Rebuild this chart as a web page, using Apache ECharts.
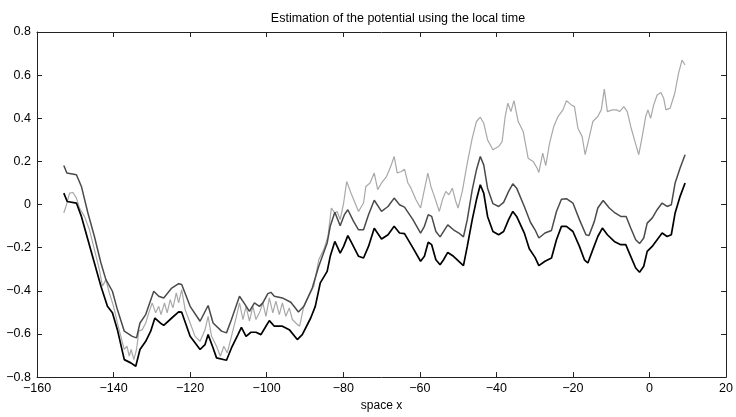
<!DOCTYPE html>
<html>
<head>
<meta charset="utf-8">
<script src="https://cdn.jsdelivr.net/npm/echarts@6/dist/echarts.min.js"></script>
<style>
html,body{margin:0;padding:0;background:#fff;}
#chart{width:736px;height:417px;}
</style>
</head>
<body>
<div id="chart"></div>
<script>
var titleText = "Estimation of the potential using the local time";
var xAxisName = "space x";
var xTicks = [-160, -140, -120, -100, -80, -60, -40, -20, 0, 20];
var yTicks = [-0.8, -0.6, -0.4, -0.2, 0, 0.2, 0.4, 0.6, 0.8];

var blackX = [-153.0,-152.1,-149.7,-148.4,-146.7,-145.0,-143.3,-141.6,-140.3,-139.0,-137.2,-135.5,-134.2,-133.1,-131.6,-130.3,-129.2,-127.8,-126.9,-124.8,-123.0,-122.2,-120.0,-117.4,-116.1,-115.3,-114.0,-113.1,-110.5,-109.2,-107.5,-106.6,-105.4,-104.1,-102.8,-101.5,-100.2,-99.3,-98.0,-95.9,-94.1,-92.0,-90.7,-88.5,-87.3,-86.0,-84.2,-83.4,-82.2,-81.6,-80.8,-79.9,-78.8,-77.8,-76.0,-74.7,-73.4,-71.9,-70.0,-68.3,-66.7,-65.3,-64.0,-61.8,-59.8,-58.8,-57.8,-56.9,-55.8,-54.7,-53.8,-52.7,-51.2,-49.8,-48.6,-47.6,-46.3,-45.2,-44.2,-43.3,-42.3,-40.9,-39.4,-38.1,-36.8,-35.7,-34.7,-32.7,-31.4,-29.9,-28.9,-27.3,-25.6,-24.3,-23.0,-21.7,-20.0,-18.3,-17.0,-16.1,-14.8,-13.5,-12.3,-11.0,-9.2,-7.5,-6.2,-4.9,-3.6,-2.6,-1.5,-0.6,0.7,2.0,3.3,4.6,5.7,6.7,8.0,9.3];
var blackY = [0.053,0.014,0.007,-0.055,-0.163,-0.271,-0.379,-0.472,-0.502,-0.580,-0.719,-0.734,-0.750,-0.672,-0.634,-0.587,-0.526,-0.549,-0.560,-0.526,-0.498,-0.499,-0.611,-0.672,-0.649,-0.603,-0.665,-0.711,-0.722,-0.665,-0.603,-0.569,-0.611,-0.592,-0.592,-0.603,-0.564,-0.538,-0.564,-0.564,-0.580,-0.626,-0.603,-0.526,-0.472,-0.363,-0.310,-0.240,-0.171,-0.194,-0.225,-0.194,-0.144,-0.178,-0.240,-0.248,-0.194,-0.110,-0.160,-0.140,-0.101,-0.132,-0.135,-0.201,-0.263,-0.240,-0.175,-0.186,-0.256,-0.279,-0.256,-0.222,-0.240,-0.263,-0.283,-0.194,-0.070,0.022,0.092,0.053,-0.055,-0.125,-0.140,-0.125,-0.070,-0.032,-0.055,-0.132,-0.205,-0.245,-0.283,-0.263,-0.248,-0.163,-0.101,-0.101,-0.125,-0.194,-0.256,-0.271,-0.209,-0.148,-0.109,-0.140,-0.171,-0.186,-0.186,-0.240,-0.294,-0.314,-0.286,-0.217,-0.194,-0.163,-0.132,-0.148,-0.140,-0.039,0.038,0.100];

var darkX = [-153.0,-152.2,-149.7,-148.4,-146.7,-145.0,-143.3,-142.0,-140.3,-139.0,-137.2,-135.1,-134.0,-133.1,-131.6,-129.5,-128.2,-126.9,-124.8,-123.0,-122.2,-120.0,-117.4,-115.3,-114.0,-111.8,-110.5,-109.2,-107.1,-105.8,-104.5,-103.2,-101.9,-101.0,-99.7,-98.9,-98.0,-95.9,-93.7,-91.7,-90.3,-88.1,-86.4,-84.2,-83.4,-82.2,-80.8,-79.7,-78.8,-77.3,-76.0,-74.7,-73.4,-71.9,-70.0,-68.3,-66.7,-65.3,-64.0,-61.8,-59.8,-58.8,-57.8,-56.9,-55.8,-54.7,-52.7,-51.2,-49.8,-48.6,-47.6,-46.3,-45.2,-44.2,-43.3,-42.3,-40.9,-39.4,-38.1,-36.8,-35.7,-34.7,-32.7,-31.1,-29.9,-28.9,-27.3,-25.6,-24.3,-23.0,-21.7,-20.0,-18.3,-16.6,-15.8,-14.4,-13.5,-12.1,-10.5,-9.0,-7.5,-6.1,-4.9,-3.6,-2.6,-1.5,-0.6,0.7,2.0,3.3,4.6,5.7,6.7,8.0,9.3];
var darkY = [0.181,0.146,0.138,0.084,-0.039,-0.148,-0.271,-0.348,-0.402,-0.487,-0.587,-0.611,-0.618,-0.549,-0.510,-0.402,-0.425,-0.433,-0.387,-0.367,-0.371,-0.472,-0.541,-0.468,-0.549,-0.587,-0.595,-0.533,-0.425,-0.459,-0.495,-0.456,-0.472,-0.456,-0.413,-0.407,-0.425,-0.433,-0.453,-0.498,-0.472,-0.387,-0.286,-0.178,-0.101,-0.036,-0.098,-0.047,-0.024,-0.078,-0.117,-0.117,-0.047,0.020,-0.032,-0.009,0.030,-0.001,-0.012,-0.070,-0.132,-0.101,-0.047,-0.055,-0.125,-0.150,-0.094,-0.117,-0.132,-0.150,-0.070,0.069,0.161,0.223,0.184,0.076,0.004,-0.009,0.010,0.061,0.096,0.076,-0.009,-0.082,-0.117,-0.155,-0.132,-0.120,-0.032,0.025,0.027,0.007,-0.070,-0.140,-0.144,-0.078,-0.016,0.019,-0.016,-0.039,-0.055,-0.055,-0.109,-0.163,-0.181,-0.155,-0.086,-0.063,-0.024,0.007,-0.009,-0.001,0.100,0.169,0.231];

var lightX = [-153.0,-152.3,-151.5,-150.6,-149.7,-148.9,-147.6,-146.3,-145.0,-143.7,-142.9,-142.0,-141.1,-140.0,-139.0,-138.1,-137.2,-136.5,-135.9,-135.4,-134.7,-134.0,-133.4,-132.5,-131.6,-130.8,-129.9,-129.0,-128.2,-127.6,-126.7,-126.0,-125.2,-124.5,-123.6,-123.0,-122.2,-121.3,-120.0,-118.7,-117.4,-116.1,-115.3,-114.4,-113.1,-112.1,-111.2,-110.3,-109.2,-107.9,-107.1,-106.2,-105.4,-104.5,-103.6,-102.8,-101.9,-101.0,-100.2,-99.3,-98.4,-97.6,-96.7,-95.9,-95.0,-94.1,-93.3,-92.4,-91.4,-90.3,-89.0,-87.7,-86.4,-85.1,-84.0,-83.1,-82.2,-81.6,-80.8,-79.9,-79.1,-77.8,-76.0,-74.7,-74.1,-73.0,-71.9,-71.0,-70.0,-68.7,-67.6,-66.7,-65.9,-64.8,-64.0,-63.1,-62.3,-61.0,-59.8,-58.8,-57.9,-57.1,-56.2,-54.9,-54.1,-53.2,-52.4,-51.5,-50.6,-50.0,-48.9,-47.6,-46.3,-45.2,-44.2,-43.3,-42.3,-40.9,-39.4,-38.5,-37.7,-37.0,-36.2,-35.4,-34.3,-33.0,-31.7,-30.4,-29.4,-28.9,-27.9,-27.1,-26.1,-25.0,-23.9,-22.6,-21.7,-20.4,-19.6,-18.7,-17.6,-16.8,-15.7,-14.8,-13.5,-12.6,-11.8,-11.0,-9.7,-8.6,-7.8,-6.7,-5.8,-4.9,-3.8,-2.8,-1.9,-1.0,-0.4,0.3,1.1,2.0,3.0,3.7,4.3,5.4,6.6,7.6,8.5,9.3];
var lightY = [-0.039,-0.001,0.053,0.056,0.030,-0.016,-0.055,-0.117,-0.209,-0.302,-0.379,-0.348,-0.410,-0.472,-0.549,-0.611,-0.672,-0.657,-0.703,-0.672,-0.719,-0.672,-0.587,-0.580,-0.549,-0.502,-0.456,-0.502,-0.472,-0.510,-0.456,-0.502,-0.441,-0.479,-0.410,-0.456,-0.394,-0.487,-0.549,-0.611,-0.634,-0.580,-0.518,-0.611,-0.657,-0.703,-0.657,-0.688,-0.611,-0.518,-0.456,-0.533,-0.472,-0.541,-0.472,-0.533,-0.502,-0.456,-0.518,-0.433,-0.502,-0.448,-0.510,-0.456,-0.518,-0.479,-0.533,-0.549,-0.564,-0.472,-0.425,-0.379,-0.256,-0.209,-0.148,-0.016,-0.039,-0.032,-0.070,0.007,0.107,0.045,-0.032,0.007,0.084,0.100,0.146,0.069,0.100,0.130,0.176,0.223,0.146,0.153,0.164,0.100,0.076,0.022,-0.016,0.069,0.146,0.084,0.038,-0.032,0.022,0.061,0.045,0.076,0.014,-0.016,0.061,0.192,0.308,0.385,0.405,0.377,0.300,0.254,0.269,0.292,0.408,0.470,0.431,0.482,0.385,0.339,0.215,0.200,0.170,0.149,0.238,0.180,0.285,0.362,0.408,0.439,0.481,0.462,0.454,0.354,0.315,0.231,0.315,0.385,0.408,0.439,0.535,0.431,0.439,0.439,0.431,0.454,0.431,0.362,0.292,0.231,0.315,0.408,0.439,0.400,0.462,0.508,0.519,0.493,0.439,0.447,0.516,0.609,0.670,0.647];

function pairs(xs, ys) {
  var out = [];
  for (var i = 0; i < xs.length; i++) out.push([xs[i], ys[i]]);
  return out;
}
function fmt(v) {
  var s = (Math.round(v * 10) / 10).toString();
  return s.replace('-', '\u2212');
}

var chart = echarts.init(document.getElementById('chart'), null, {renderer: 'canvas'});
var fontFam = '"Liberation Sans", Arial, sans-serif';
var axisCol = '#222';
var commonX = {
  type: 'value', min: xTicks[0], max: xTicks[xTicks.length - 1], interval: 20,
  splitLine: {show: false},
  axisLine: {show: true, onZero: false, lineStyle: {color: axisCol, width: 1}},
  axisTick: {show: true, inside: true, length: 5, lineStyle: {color: axisCol}}
};
var commonY = {
  type: 'value', min: yTicks[0], max: yTicks[yTicks.length - 1], interval: 0.2,
  splitLine: {show: false},
  axisLine: {show: true, onZero: false, lineStyle: {color: axisCol, width: 1}},
  axisTick: {show: true, inside: true, length: 5, lineStyle: {color: axisCol}}
};

chart.setOption({
  animation: false,
  backgroundColor: '#fff',
  title: {
    text: titleText, left: 393, top: 7, textAlign: 'center',
    textStyle: {fontFamily: fontFam, fontSize: 12.5, fontWeight: 'normal', color: '#000'}
  },
  grid: {left: 37, right: 3, top: 32, bottom: 39, containLabel: false},
  xAxis: [
    Object.assign({}, commonX, {
      position: 'bottom',
      name: xAxisName, nameLocation: 'middle', nameGap: 21,
      nameTextStyle: {fontFamily: fontFam, fontSize: 12, color: '#000'},
      axisLabel: {margin: 5, fontFamily: fontFam, fontSize: 12.5, color: '#000', formatter: function (v) { return fmt(v); }}
    }),
    Object.assign({}, commonX, {position: 'top', axisLabel: {show: false}})
  ],
  yAxis: [
    Object.assign({}, commonY, {
      position: 'left',
      axisLabel: {margin: 6, fontFamily: fontFam, fontSize: 12.5, color: '#000', formatter: function (v) { return fmt(v); }}
    }),
    Object.assign({}, commonY, {position: 'right', axisLabel: {show: false}})
  ],
  series: [
    {type: 'line', data: pairs(lightX, lightY), showSymbol: false, lineStyle: {color: '#a8a8a8', width: 1.2}, z: 2},
    {type: 'line', data: pairs(darkX, darkY), showSymbol: false, lineStyle: {color: '#4a4a4a', width: 1.5}, z: 3},
    {type: 'line', data: pairs(blackX, blackY), showSymbol: false, lineStyle: {color: '#000', width: 1.7}, z: 4}
  ]
});
</script>
</body>
</html>
